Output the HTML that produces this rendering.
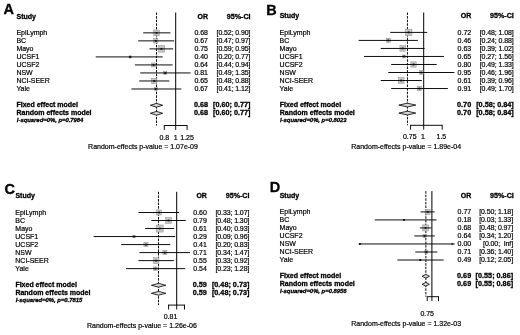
<!DOCTYPE html>
<html lang="en">
<head>
<meta charset="utf-8">
<title>Forest plots</title>
<style>
html,body{margin:0;padding:0;background:#fff;}
body{width:520px;height:335px;overflow:hidden;}
svg{display:block;}
svg text{font-family:"Liberation Sans",Arial,Helvetica,sans-serif;fill:#000;stroke:#000;stroke-width:.2px;}
svg text.b{font-weight:bold;stroke-width:.3px;}
svg text.bi{font-weight:bold;font-style:italic;stroke-width:.3px;}
</style>
</head>
<body>
<svg width="520" height="335" viewBox="0 0 520 335">
<defs><filter id="soft" x="0" y="0" width="520" height="335" filterUnits="userSpaceOnUse"><feGaussianBlur stdDeviation="0.32"/></filter></defs>
<rect width="520" height="335" fill="#fff"/>
<g filter="url(#soft)">
<g id="panel-A">
<text x="3.4" y="14.1" font-size="14.5" class="b">A</text>
<text x="16.5" y="18.6" font-size="7.0" class="b">Study</text>
<text x="208" y="18.6" font-size="7.0" text-anchor="end" class="b">OR</text>
<text x="250.6" y="18.6" font-size="7.15" text-anchor="end" class="b">95%-CI</text>
<line x1="175.7" y1="12.5" x2="175.7" y2="125.5" stroke="#000" stroke-width="1.0"/>
<line x1="156.53" y1="12.5" x2="156.53" y2="125.5" stroke="#000" stroke-width="0.95" stroke-dasharray="2.5 1.1"/>
<text x="16.4" y="35" font-size="7.0">EpiLymph</text>
<rect x="153.71" y="30.03" width="5.64" height="5.64" fill="#c6c6c6" stroke="#8f8f8f" stroke-width="0.5"/>
<line x1="143.2" y1="32.85" x2="170.46" y2="32.85" stroke="#000" stroke-width="0.95"/>
<rect x="155.63" y="31.95" width="1.8" height="1.8" fill="#111"/>
<text x="208" y="35" font-size="7.0" text-anchor="end">0.68</text>
<text x="250.4" y="35" font-size="7.0" text-anchor="end" letter-spacing="-0.1">[0.52; 0.90]</text>
<text x="16.4" y="43.02" font-size="7.0">BC</text>
<rect x="153.66" y="38.73" width="4.27" height="4.27" fill="#c6c6c6" stroke="#8f8f8f" stroke-width="0.5"/>
<line x1="138.18" y1="40.87" x2="174.19" y2="40.87" stroke="#000" stroke-width="0.95"/>
<rect x="154.9" y="39.97" width="1.8" height="1.8" fill="#111"/>
<text x="208" y="43.02" font-size="7.0" text-anchor="end">0.67</text>
<text x="250.4" y="43.02" font-size="7.0" text-anchor="end" letter-spacing="-0.1">[0.47; 0.97]</text>
<text x="16.4" y="51.04" font-size="7.0">Mayo</text>
<rect x="158.15" y="45.64" width="6.5" height="6.5" fill="#c6c6c6" stroke="#8f8f8f" stroke-width="0.5"/>
<line x1="149.48" y1="48.89" x2="173.15" y2="48.89" stroke="#000" stroke-width="0.95"/>
<rect x="160.5" y="47.99" width="1.8" height="1.8" fill="#111"/>
<text x="208" y="51.04" font-size="7.0" text-anchor="end">0.75</text>
<text x="250.4" y="51.04" font-size="7.0" text-anchor="end" letter-spacing="-0.1">[0.59; 0.95]</text>
<text x="16.4" y="59.06" font-size="7.0">UCSF1</text>
<rect x="129.01" y="55.76" width="2.3" height="2.3" fill="#c6c6c6" stroke="#8f8f8f" stroke-width="0.5"/>
<line x1="95.71" y1="56.91" x2="162.71" y2="56.91" stroke="#000" stroke-width="0.95"/>
<rect x="129.26" y="56.01" width="1.8" height="1.8" fill="#111"/>
<text x="208" y="59.06" font-size="7.0" text-anchor="end">0.40</text>
<text x="250.4" y="59.06" font-size="7.0" text-anchor="end" letter-spacing="-0.1">[0.20; 0.77]</text>
<text x="16.4" y="67.08" font-size="7.0">UCSF2</text>
<rect x="151.48" y="62.89" width="4.08" height="4.08" fill="#c6c6c6" stroke="#8f8f8f" stroke-width="0.5"/>
<line x1="134.9" y1="64.93" x2="172.62" y2="64.93" stroke="#000" stroke-width="0.95"/>
<rect x="152.62" y="64.03" width="1.8" height="1.8" fill="#111"/>
<text x="208" y="67.08" font-size="7.0" text-anchor="end">0.64</text>
<text x="250.4" y="67.08" font-size="7.0" text-anchor="end" letter-spacing="-0.1">[0.44; 0.94]</text>
<text x="16.4" y="75.1" font-size="7.0">NSW</text>
<rect x="163.7" y="71.42" width="3.06" height="3.06" fill="#c6c6c6" stroke="#8f8f8f" stroke-width="0.5"/>
<line x1="140.25" y1="72.95" x2="190.62" y2="72.95" stroke="#000" stroke-width="0.95"/>
<rect x="164.33" y="72.05" width="1.8" height="1.8" fill="#111"/>
<text x="208" y="75.1" font-size="7.0" text-anchor="end">0.81</text>
<text x="250.4" y="75.1" font-size="7.0" text-anchor="end" letter-spacing="-0.1">[0.49; 1.35]</text>
<text x="16.4" y="83.12" font-size="7.0">NCI-SEER</text>
<rect x="151.74" y="78.42" width="5.11" height="5.11" fill="#c6c6c6" stroke="#8f8f8f" stroke-width="0.5"/>
<line x1="139.22" y1="80.97" x2="169.35" y2="80.97" stroke="#000" stroke-width="0.95"/>
<rect x="153.39" y="80.07" width="1.8" height="1.8" fill="#111"/>
<text x="208" y="83.12" font-size="7.0" text-anchor="end">0.65</text>
<text x="250.4" y="83.12" font-size="7.0" text-anchor="end" letter-spacing="-0.1">[0.48; 0.88]</text>
<text x="16.4" y="91.14" font-size="7.0">Yale</text>
<rect x="154.26" y="87.45" width="3.08" height="3.08" fill="#c6c6c6" stroke="#8f8f8f" stroke-width="0.5"/>
<line x1="131.39" y1="88.99" x2="181.33" y2="88.99" stroke="#000" stroke-width="0.95"/>
<rect x="154.9" y="88.09" width="1.8" height="1.8" fill="#111"/>
<text x="208" y="91.14" font-size="7.0" text-anchor="end">0.67</text>
<text x="250.4" y="91.14" font-size="7.0" text-anchor="end" letter-spacing="-0.1">[0.41; 1.12]</text>
<text x="16.5" y="107.18" font-size="7.0" class="b">Fixed effect model</text>
<path d="M150.31 105.28 L156.53 103.38 L162.71 105.28 L156.53 107.18Z" fill="#d4d4d4" stroke="#000" stroke-width="0.8" stroke-linejoin="miter"/>
<text x="208" y="107.18" font-size="7.25" text-anchor="end" class="b">0.68</text>
<text x="250.5" y="107.18" font-size="7.25" text-anchor="end" class="b">[0.60; 0.77]</text>
<text x="16.5" y="115.2" font-size="7.0" class="b">Random effects model</text>
<path d="M150.31 113.3 L156.53 111.4 L162.71 113.3 L156.53 115.2Z" fill="#d4d4d4" stroke="#000" stroke-width="0.8" stroke-linejoin="miter"/>
<text x="208" y="115.2" font-size="7.25" text-anchor="end" class="b">0.68</text>
<text x="250.5" y="115.2" font-size="7.25" text-anchor="end" class="b">[0.60; 0.77]</text>
<text x="16.8" y="122.42" font-size="5.9" class="bi" textLength="66.6" lengthAdjust="spacing">I-squared=0%, p=0.7984</text>
<line x1="164.3" y1="125.5" x2="187.1" y2="125.5" stroke="#000" stroke-width="0.95"/>
<line x1="164.3" y1="125.05" x2="164.3" y2="129.9" stroke="#000" stroke-width="0.95"/>
<text x="164.3" y="139.9" font-size="7.0" text-anchor="middle">0.8</text>
<line x1="175.7" y1="125.05" x2="175.7" y2="129.9" stroke="#000" stroke-width="0.95"/>
<text x="175.7" y="139.9" font-size="7.0" text-anchor="middle">1</text>
<line x1="187.1" y1="125.05" x2="187.1" y2="129.9" stroke="#000" stroke-width="0.95"/>
<text x="187.1" y="139.9" font-size="7.0" text-anchor="middle">1.25</text>
<text x="143" y="148.8" font-size="7.0" text-anchor="middle">Random-effects p-value = 1.07e-09</text>
</g>
<g id="panel-B">
<text x="266.2" y="14.5" font-size="14.5" class="b">B</text>
<text x="279.7" y="18.3" font-size="7.0" class="b">Study</text>
<text x="471.2" y="18.3" font-size="7.0" text-anchor="end" class="b">OR</text>
<text x="513.8" y="18.3" font-size="7.15" text-anchor="end" class="b">95%-CI</text>
<line x1="423.7" y1="12.5" x2="423.7" y2="125.3" stroke="#000" stroke-width="1.0"/>
<line x1="407.44" y1="12.5" x2="407.44" y2="125.3" stroke="#000" stroke-width="0.95" stroke-dasharray="2.5 1.1"/>
<text x="279.6" y="34.8" font-size="7.0">EpiLymph</text>
<rect x="405.47" y="29.15" width="6.5" height="6.5" fill="#c6c6c6" stroke="#8f8f8f" stroke-width="0.5"/>
<line x1="390.23" y1="32.4" x2="427.21" y2="32.4" stroke="#000" stroke-width="0.95"/>
<rect x="407.82" y="31.5" width="1.8" height="1.8" fill="#111"/>
<text x="471.2" y="34.8" font-size="7.0" text-anchor="end">0.72</text>
<text x="513.6" y="34.8" font-size="7.0" text-anchor="end" letter-spacing="-0.1">[0.48; 1.08]</text>
<text x="279.6" y="42.82" font-size="7.0">BC</text>
<rect x="386.26" y="38.39" width="4.06" height="4.06" fill="#c6c6c6" stroke="#8f8f8f" stroke-width="0.5"/>
<line x1="358.62" y1="40.42" x2="417.87" y2="40.42" stroke="#000" stroke-width="0.95"/>
<rect x="387.39" y="39.52" width="1.8" height="1.8" fill="#111"/>
<text x="471.2" y="42.82" font-size="7.0" text-anchor="end">0.46</text>
<text x="513.6" y="42.82" font-size="7.0" text-anchor="end" letter-spacing="-0.1">[0.24; 0.88]</text>
<text x="279.6" y="50.84" font-size="7.0">Mayo</text>
<rect x="399.89" y="45.7" width="5.48" height="5.48" fill="#c6c6c6" stroke="#8f8f8f" stroke-width="0.5"/>
<line x1="380.76" y1="48.44" x2="424.6" y2="48.44" stroke="#000" stroke-width="0.95"/>
<rect x="401.73" y="47.54" width="1.8" height="1.8" fill="#111"/>
<text x="471.2" y="50.84" font-size="7.0" text-anchor="end">0.63</text>
<text x="513.6" y="50.84" font-size="7.0" text-anchor="end" letter-spacing="-0.1">[0.39; 1.02]</text>
<text x="279.6" y="58.86" font-size="7.0">UCSF1</text>
<rect x="402.55" y="54.96" width="3.01" height="3.01" fill="#c6c6c6" stroke="#8f8f8f" stroke-width="0.5"/>
<line x1="363.99" y1="56.46" x2="443.98" y2="56.46" stroke="#000" stroke-width="0.95"/>
<rect x="403.16" y="55.56" width="1.8" height="1.8" fill="#111"/>
<text x="471.2" y="58.86" font-size="7.0" text-anchor="end">0.65</text>
<text x="513.6" y="58.86" font-size="7.0" text-anchor="end" letter-spacing="-0.1">[0.27; 1.56]</text>
<text x="279.6" y="66.88" font-size="7.0">UCSF2</text>
<rect x="410.89" y="61.84" width="5.28" height="5.28" fill="#c6c6c6" stroke="#8f8f8f" stroke-width="0.5"/>
<line x1="391.17" y1="64.48" x2="436.7" y2="64.48" stroke="#000" stroke-width="0.95"/>
<rect x="412.62" y="63.58" width="1.8" height="1.8" fill="#111"/>
<text x="471.2" y="66.88" font-size="7.0" text-anchor="end">0.80</text>
<text x="513.6" y="66.88" font-size="7.0" text-anchor="end" letter-spacing="-0.1">[0.49; 1.33]</text>
<text x="279.6" y="74.9" font-size="7.0">NSW</text>
<rect x="419.54" y="70.68" width="3.64" height="3.64" fill="#c6c6c6" stroke="#8f8f8f" stroke-width="0.5"/>
<line x1="388.29" y1="72.5" x2="454.39" y2="72.5" stroke="#000" stroke-width="0.95"/>
<rect x="420.46" y="71.6" width="1.8" height="1.8" fill="#111"/>
<text x="471.2" y="74.9" font-size="7.0" text-anchor="end">0.95</text>
<text x="513.6" y="74.9" font-size="7.0" text-anchor="end" letter-spacing="-0.1">[0.46; 1.96]</text>
<text x="279.6" y="82.92" font-size="7.0">NCI-SEER</text>
<rect x="398.23" y="77.59" width="5.85" height="5.85" fill="#c6c6c6" stroke="#8f8f8f" stroke-width="0.5"/>
<line x1="380.76" y1="80.52" x2="421.84" y2="80.52" stroke="#000" stroke-width="0.95"/>
<rect x="400.26" y="79.62" width="1.8" height="1.8" fill="#111"/>
<text x="471.2" y="82.92" font-size="7.0" text-anchor="end">0.61</text>
<text x="513.6" y="82.92" font-size="7.0" text-anchor="end" letter-spacing="-0.1">[0.39; 0.96]</text>
<text x="279.6" y="90.94" font-size="7.0">Yale</text>
<rect x="417.28" y="86.42" width="4.24" height="4.24" fill="#c6c6c6" stroke="#8f8f8f" stroke-width="0.5"/>
<line x1="391.17" y1="88.54" x2="447.9" y2="88.54" stroke="#000" stroke-width="0.95"/>
<rect x="418.5" y="87.64" width="1.8" height="1.8" fill="#111"/>
<text x="471.2" y="90.94" font-size="7.0" text-anchor="end">0.91</text>
<text x="513.6" y="90.94" font-size="7.0" text-anchor="end" letter-spacing="-0.1">[0.49; 1.70]</text>
<text x="279.7" y="106.98" font-size="7.0" class="b">Fixed effect model</text>
<path d="M398.86 105.08 L407.44 103.18 L415.75 105.08 L407.44 106.98Z" fill="#d4d4d4" stroke="#000" stroke-width="0.8" stroke-linejoin="miter"/>
<text x="471.2" y="106.98" font-size="7.25" text-anchor="end" class="b">0.70</text>
<text x="513.7" y="106.98" font-size="7.25" text-anchor="end" class="b">[0.58; 0.84]</text>
<text x="279.7" y="115" font-size="7.0" class="b">Random effects model</text>
<path d="M398.86 113.1 L407.44 111.2 L415.75 113.1 L407.44 115Z" fill="#d4d4d4" stroke="#000" stroke-width="0.8" stroke-linejoin="miter"/>
<text x="471.2" y="115" font-size="7.25" text-anchor="end" class="b">0.70</text>
<text x="513.7" y="115" font-size="7.25" text-anchor="end" class="b">[0.58; 0.84]</text>
<text x="280" y="122.22" font-size="5.9" class="bi" textLength="66.6" lengthAdjust="spacing">I-squared=0%, p=0.8023</text>
<line x1="410.58" y1="125.3" x2="442.19" y2="125.3" stroke="#000" stroke-width="0.95"/>
<line x1="410.58" y1="124.85" x2="410.58" y2="129.7" stroke="#000" stroke-width="0.95"/>
<text x="409.78" y="139.4" font-size="7.0" text-anchor="middle">0.75</text>
<line x1="423.7" y1="124.85" x2="423.7" y2="129.7" stroke="#000" stroke-width="0.95"/>
<text x="422.9" y="139.4" font-size="7.0" text-anchor="middle">1</text>
<line x1="442.19" y1="124.85" x2="442.19" y2="129.7" stroke="#000" stroke-width="0.95"/>
<text x="441.39" y="139.4" font-size="7.0" text-anchor="middle">1.5</text>
<text x="406.2" y="148.5" font-size="7.0" text-anchor="middle">Random-effects p-value = 1.89e-04</text>
</g>
<g id="panel-C">
<text x="4.4" y="193.8" font-size="14.5" class="b">C</text>
<text x="15.4" y="197.9" font-size="7.0" class="b">Study</text>
<text x="206.9" y="197.9" font-size="7.0" text-anchor="end" class="b">OR</text>
<text x="249.5" y="197.9" font-size="7.15" text-anchor="end" class="b">95%-CI</text>
<line x1="176.7" y1="191.8" x2="176.7" y2="305.1" stroke="#000" stroke-width="1.0"/>
<line x1="158.5" y1="191.8" x2="158.5" y2="305.1" stroke="#000" stroke-width="0.95" stroke-dasharray="2.5 1.1"/>
<text x="15.3" y="215" font-size="7.0">EpiLymph</text>
<rect x="156.57" y="209.99" width="5.02" height="5.02" fill="#c6c6c6" stroke="#8f8f8f" stroke-width="0.5"/>
<line x1="138.45" y1="212.5" x2="179.03" y2="212.5" stroke="#000" stroke-width="0.95"/>
<rect x="158.18" y="211.6" width="1.8" height="1.8" fill="#111"/>
<text x="206.9" y="215" font-size="7.0" text-anchor="end">0.60</text>
<text x="249.3" y="215" font-size="7.0" text-anchor="end" letter-spacing="-0.1">[0.33; 1.07]</text>
<text x="15.3" y="223.02" font-size="7.0">BC</text>
<rect x="165.6" y="217.56" width="5.93" height="5.93" fill="#c6c6c6" stroke="#8f8f8f" stroke-width="0.5"/>
<line x1="151.38" y1="220.52" x2="185.75" y2="220.52" stroke="#000" stroke-width="0.95"/>
<rect x="167.67" y="219.62" width="1.8" height="1.8" fill="#111"/>
<text x="206.9" y="223.02" font-size="7.0" text-anchor="end">0.79</text>
<text x="249.3" y="223.02" font-size="7.0" text-anchor="end" letter-spacing="-0.1">[0.48; 1.30]</text>
<text x="15.3" y="231.04" font-size="7.0">Mayo</text>
<rect x="156.15" y="225.04" width="7" height="7" fill="#c6c6c6" stroke="#8f8f8f" stroke-width="0.5"/>
<line x1="145.09" y1="228.54" x2="174.2" y2="228.54" stroke="#000" stroke-width="0.95"/>
<rect x="158.75" y="227.64" width="1.8" height="1.8" fill="#111"/>
<text x="206.9" y="231.04" font-size="7.0" text-anchor="end">0.61</text>
<text x="249.3" y="231.04" font-size="7.0" text-anchor="end" letter-spacing="-0.1">[0.40; 0.93]</text>
<text x="15.3" y="239.06" font-size="7.0">UCSF1</text>
<rect x="132.75" y="235.31" width="2.5" height="2.5" fill="#c6c6c6" stroke="#8f8f8f" stroke-width="0.5"/>
<line x1="93.63" y1="236.56" x2="175.29" y2="236.56" stroke="#000" stroke-width="0.95"/>
<rect x="133.09" y="235.66" width="1.8" height="1.8" fill="#111"/>
<text x="206.9" y="239.06" font-size="7.0" text-anchor="end">0.29</text>
<text x="249.3" y="239.06" font-size="7.0" text-anchor="end" letter-spacing="-0.1">[0.09; 0.96]</text>
<text x="15.3" y="247.08" font-size="7.0">UCSF2</text>
<rect x="143.86" y="242.5" width="4.15" height="4.15" fill="#c6c6c6" stroke="#8f8f8f" stroke-width="0.5"/>
<line x1="121.17" y1="244.58" x2="170.27" y2="244.58" stroke="#000" stroke-width="0.95"/>
<rect x="145.04" y="243.68" width="1.8" height="1.8" fill="#111"/>
<text x="206.9" y="247.08" font-size="7.0" text-anchor="end">0.41</text>
<text x="249.3" y="247.08" font-size="7.0" text-anchor="end" letter-spacing="-0.1">[0.20; 0.83]</text>
<text x="15.3" y="255.1" font-size="7.0">NSW</text>
<rect x="162.87" y="250.58" width="4.03" height="4.03" fill="#c6c6c6" stroke="#8f8f8f" stroke-width="0.5"/>
<line x1="139.48" y1="252.6" x2="189.99" y2="252.6" stroke="#000" stroke-width="0.95"/>
<rect x="163.98" y="251.7" width="1.8" height="1.8" fill="#111"/>
<text x="206.9" y="255.1" font-size="7.0" text-anchor="end">0.71</text>
<text x="249.3" y="255.1" font-size="7.0" text-anchor="end" letter-spacing="-0.1">[0.34; 1.47]</text>
<text x="15.3" y="263.12" font-size="7.0">NCI-SEER</text>
<rect x="153.19" y="257.74" width="5.76" height="5.76" fill="#c6c6c6" stroke="#8f8f8f" stroke-width="0.5"/>
<line x1="138.45" y1="260.62" x2="173.82" y2="260.62" stroke="#000" stroke-width="0.95"/>
<rect x="155.17" y="259.72" width="1.8" height="1.8" fill="#111"/>
<text x="206.9" y="263.12" font-size="7.0" text-anchor="end">0.55</text>
<text x="249.3" y="263.12" font-size="7.0" text-anchor="end" letter-spacing="-0.1">[0.33; 0.92]</text>
<text x="15.3" y="271.14" font-size="7.0">Yale</text>
<rect x="153.72" y="266.92" width="3.44" height="3.44" fill="#c6c6c6" stroke="#8f8f8f" stroke-width="0.5"/>
<line x1="126" y1="268.64" x2="185.22" y2="268.64" stroke="#000" stroke-width="0.95"/>
<rect x="154.54" y="267.74" width="1.8" height="1.8" fill="#111"/>
<text x="206.9" y="271.14" font-size="7.0" text-anchor="end">0.54</text>
<text x="249.3" y="271.14" font-size="7.0" text-anchor="end" letter-spacing="-0.1">[0.23; 1.28]</text>
<text x="15.4" y="287.18" font-size="7.0" class="b">Fixed effect model</text>
<path d="M151.38 285.28 L158.5 283.38 L165.84 285.28 L158.5 287.18Z" fill="#d4d4d4" stroke="#000" stroke-width="0.8" stroke-linejoin="miter"/>
<text x="206.9" y="287.18" font-size="7.25" text-anchor="end" class="b">0.59</text>
<text x="249.4" y="287.18" font-size="7.25" text-anchor="end" class="b">[0.48; 0.73]</text>
<text x="15.4" y="295.2" font-size="7.0" class="b">Random effects model</text>
<path d="M151.38 293.3 L158.5 291.4 L165.84 293.3 L158.5 295.2Z" fill="#d4d4d4" stroke="#000" stroke-width="0.8" stroke-linejoin="miter"/>
<text x="206.9" y="295.2" font-size="7.25" text-anchor="end" class="b">0.59</text>
<text x="249.4" y="295.2" font-size="7.25" text-anchor="end" class="b">[0.48; 0.73]</text>
<text x="15.7" y="302.42" font-size="5.9" class="bi" textLength="66.6" lengthAdjust="spacing">I-squared=0%, p=0.7815</text>
<line x1="168.6" y1="305.1" x2="184.5" y2="305.1" stroke="#000" stroke-width="0.95"/>
<line x1="168.6" y1="304.65" x2="168.6" y2="309.5" stroke="#000" stroke-width="0.95"/>
<text x="170.5" y="318.9" font-size="7.0" text-anchor="middle">0.81</text>
<line x1="176.7" y1="304.65" x2="176.7" y2="309.5" stroke="#000" stroke-width="0.95"/>
<line x1="184.5" y1="304.65" x2="184.5" y2="309.5" stroke="#000" stroke-width="0.95"/>
<text x="141.9" y="328.3" font-size="7.0" text-anchor="middle">Random-effects p-value = 1.26e-06</text>
</g>
<g id="panel-D">
<text x="269.7" y="192.3" font-size="14.5" class="b">D</text>
<text x="279.7" y="197.6" font-size="7.0" class="b">Study</text>
<text x="471.2" y="197.6" font-size="7.0" text-anchor="end" class="b">OR</text>
<text x="513.8" y="197.6" font-size="7.15" text-anchor="end" class="b">95%-CI</text>
<line x1="431.9" y1="191.1" x2="431.9" y2="296.7" stroke="#000" stroke-width="1.0"/>
<line x1="425.85" y1="191.1" x2="425.85" y2="296.7" stroke="#000" stroke-width="0.95" stroke-dasharray="2.5 1.1"/>
<text x="279.6" y="214" font-size="7.0">EpiLymph</text>
<rect x="425.18" y="209.44" width="4.92" height="4.92" fill="#c6c6c6" stroke="#8f8f8f" stroke-width="0.5"/>
<line x1="420.6" y1="211.9" x2="434.6" y2="211.9" stroke="#000" stroke-width="0.95"/>
<rect x="426.74" y="211" width="1.8" height="1.8" fill="#111"/>
<text x="471.2" y="214" font-size="7.0" text-anchor="end">0.77</text>
<text x="513" y="214" font-size="7.0" text-anchor="end" letter-spacing="-0.1">[0.50; 1.18]</text>
<text x="279.6" y="222.02" font-size="7.0">BC</text>
<rect x="403.39" y="219.36" width="1.11" height="1.11" fill="#c6c6c6" stroke="#8f8f8f" stroke-width="0.5"/>
<line x1="374.74" y1="219.92" x2="436.55" y2="219.92" stroke="#000" stroke-width="0.95"/>
<rect x="403.05" y="219.02" width="1.8" height="1.8" fill="#111"/>
<text x="471.2" y="222.02" font-size="7.0" text-anchor="end">0.18</text>
<text x="513" y="222.02" font-size="7.0" text-anchor="end" letter-spacing="-0.1">[0.03; 1.33]</text>
<text x="279.6" y="230.04" font-size="7.0">Mayo</text>
<rect x="422.61" y="224.94" width="6" height="6" fill="#c6c6c6" stroke="#8f8f8f" stroke-width="0.5"/>
<line x1="419.94" y1="227.94" x2="431.4" y2="227.94" stroke="#000" stroke-width="0.95"/>
<rect x="424.71" y="227.04" width="1.8" height="1.8" fill="#111"/>
<text x="471.2" y="230.04" font-size="7.0" text-anchor="end">0.68</text>
<text x="513" y="230.04" font-size="7.0" text-anchor="end" letter-spacing="-0.1">[0.48; 0.97]</text>
<text x="279.6" y="238.06" font-size="7.0">UCSF2</text>
<rect x="422.95" y="234.29" width="3.35" height="3.35" fill="#c6c6c6" stroke="#8f8f8f" stroke-width="0.5"/>
<line x1="414.32" y1="235.96" x2="434.87" y2="235.96" stroke="#000" stroke-width="0.95"/>
<rect x="423.73" y="235.06" width="1.8" height="1.8" fill="#111"/>
<text x="471.2" y="238.06" font-size="7.0" text-anchor="end">0.64</text>
<text x="513" y="238.06" font-size="7.0" text-anchor="end" letter-spacing="-0.1">[0.34; 1.20]</text>
<text x="279.6" y="246.08" font-size="7.0">NSW</text>
<line x1="358.6" y1="243.98" x2="454.7" y2="243.98" stroke="#000" stroke-width="0.95"/>
<rect x="359" y="243.08" width="1.8" height="1.8" fill="#111"/>
<path d="M451.5 242.78 L453.7 243.98 L451.5 245.18Z" fill="#111"/>
<text x="471.2" y="246.08" font-size="7.0" text-anchor="end">0.00</text>
<text x="513" y="246.08" font-size="7.0" text-anchor="end" letter-spacing="-0.1">[0.00;&#160;&#160;Inf]</text>
<text x="279.6" y="254.1" font-size="7.0">NCI-SEER</text>
<rect x="424.76" y="250.45" width="3.11" height="3.11" fill="#c6c6c6" stroke="#8f8f8f" stroke-width="0.5"/>
<line x1="415.25" y1="252" x2="437.38" y2="252" stroke="#000" stroke-width="0.95"/>
<rect x="425.42" y="251.1" width="1.8" height="1.8" fill="#111"/>
<text x="471.2" y="254.1" font-size="7.0" text-anchor="end">0.71</text>
<text x="513" y="254.1" font-size="7.0" text-anchor="end" letter-spacing="-0.1">[0.36; 1.40]</text>
<text x="279.6" y="262.12" font-size="7.0">Yale</text>
<rect x="419.53" y="259.28" width="1.49" height="1.49" fill="#c6c6c6" stroke="#8f8f8f" stroke-width="0.5"/>
<line x1="397.34" y1="260.02" x2="443.6" y2="260.02" stroke="#000" stroke-width="0.95"/>
<rect x="419.37" y="259.12" width="1.8" height="1.8" fill="#111"/>
<text x="471.2" y="262.12" font-size="7.0" text-anchor="end">0.49</text>
<text x="513" y="262.12" font-size="7.0" text-anchor="end" letter-spacing="-0.1">[0.12; 2.05]</text>
<text x="279.7" y="278.16" font-size="7.0" class="b">Fixed effect model</text>
<path d="M422.16 276.26 L425.85 274.36 L429.44 276.26 L425.85 278.16Z" fill="#d4d4d4" stroke="#000" stroke-width="0.8" stroke-linejoin="miter"/>
<text x="471.2" y="278.16" font-size="7.25" text-anchor="end" class="b">0.69</text>
<text x="513.1" y="278.16" font-size="7.25" text-anchor="end" class="b">[0.55; 0.86]</text>
<text x="279.7" y="286.18" font-size="7.0" class="b">Random effects model</text>
<path d="M422.16 284.28 L425.85 282.38 L429.44 284.28 L425.85 286.18Z" fill="#d4d4d4" stroke="#000" stroke-width="0.8" stroke-linejoin="miter"/>
<text x="471.2" y="286.18" font-size="7.25" text-anchor="end" class="b">0.69</text>
<text x="513.1" y="286.18" font-size="7.25" text-anchor="end" class="b">[0.55; 0.86]</text>
<text x="280" y="293.4" font-size="5.9" class="bi" textLength="66.6" lengthAdjust="spacing">I-squared=0%, p=0.8956</text>
<line x1="427.21" y1="296.7" x2="438.51" y2="296.7" stroke="#000" stroke-width="0.95"/>
<line x1="427.21" y1="296.25" x2="427.21" y2="301.1" stroke="#000" stroke-width="0.95"/>
<text x="427.21" y="316.2" font-size="7.0" text-anchor="middle">0.75</text>
<line x1="431.9" y1="296.25" x2="431.9" y2="301.1" stroke="#000" stroke-width="0.95"/>
<line x1="438.51" y1="296.25" x2="438.51" y2="301.1" stroke="#000" stroke-width="0.95"/>
<text x="406.2" y="325.6" font-size="7.0" text-anchor="middle">Random-effects p-value = 1.32e-03</text>
</g>
</g>
</svg>
</body>
</html>
